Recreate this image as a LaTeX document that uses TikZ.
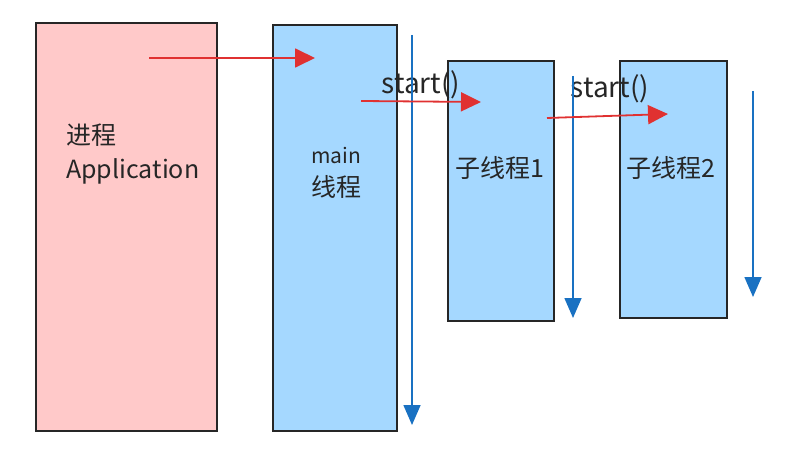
\documentclass[tikz,border=0pt]{standalone}
\usepackage{fontspec}
\newfontfamily\cjk{Noto Sans CJK SC}
\usetikzlibrary{arrows.meta}
\definecolor{pinkfill}{HTML}{FFC9C9}
\definecolor{bluefill}{HTML}{A5D8FF}
\definecolor{bluearrow}{HTML}{1971C2}
\definecolor{redarrow}{HTML}{E03131}
\begin{document}
\begin{tikzpicture}[x=1pt,y=-1pt,
  boxstyle/.style={draw=black!85,line width=1.6pt,rectangle,inner sep=0pt,anchor=north west},
  lifeline/.style={draw=bluearrow,line width=1.6pt,-{Triangle[length=20pt,width=17pt]}},
  callarrow/.style={draw=redarrow,line width=1.8pt,-{Triangle[length=20pt,width=19pt]}},
  lbl/.style={font=\cjk\fontsize{25}{28}\selectfont,text=black!85,inner sep=0pt}]
\useasboundingbox (0,0) rectangle (799,465);
\node[boxstyle,fill=pinkfill,minimum width=181pt,minimum height=408pt] (proc) at (35,22) {};
\node[boxstyle,fill=bluefill,minimum width=124pt,minimum height=406pt] (mainth) at (272,24) {};
\node[boxstyle,fill=bluefill,minimum width=106pt,minimum height=260pt] (child1) at (447,60) {};
\node[boxstyle,fill=bluefill,minimum width=107pt,minimum height=257pt] (child2) at (619,60) {};
% texts
\node[lbl,anchor=west] (t1) at (66,135) {进程};
\node[lbl,anchor=west] (t2) at (66,171) {Application};
\node[lbl,font=\cjk\fontsize{21}{24}\selectfont] (t3) at (336,155) {main};
\node[lbl] (t4) at (336,187) {线程};
\node[lbl] (t5) at (500,168) {子线程1};
\node[lbl] (t6) at (671,168) {子线程2};
\node[lbl,font=\cjk\fontsize{28}{32}\selectfont] (s1) at (421,85) {start()};
\node[lbl,font=\cjk\fontsize{28}{32}\selectfont] (s2) at (610,89) {start()};
% lifelines
\coordinate (l1a) at (412,35); \coordinate (l1b) at (412,425);
\coordinate (l2a) at (573,76); \coordinate (l2b) at (573,318);
\coordinate (l3a) at (753,91); \coordinate (l3b) at (753,297);
\draw[lifeline] (l1a) -- (l1b);
\draw[lifeline] (l2a) -- (l2b);
\draw[lifeline] (l3a) -- (l3b);
% calls
\coordinate (c1a) at (149,58); \coordinate (c1b) at (315,58);
\coordinate (c2a) at (361,101); \coordinate (c2b) at (481,102);
\coordinate (c3a) at (547,118); \coordinate (c3b) at (668,114);
\draw[callarrow] (c1a) -- (c1b);
\draw[callarrow] (c2a) -- (c2b);
\draw[callarrow] (c3a) -- (c3b);
\end{tikzpicture}
\end{document}
